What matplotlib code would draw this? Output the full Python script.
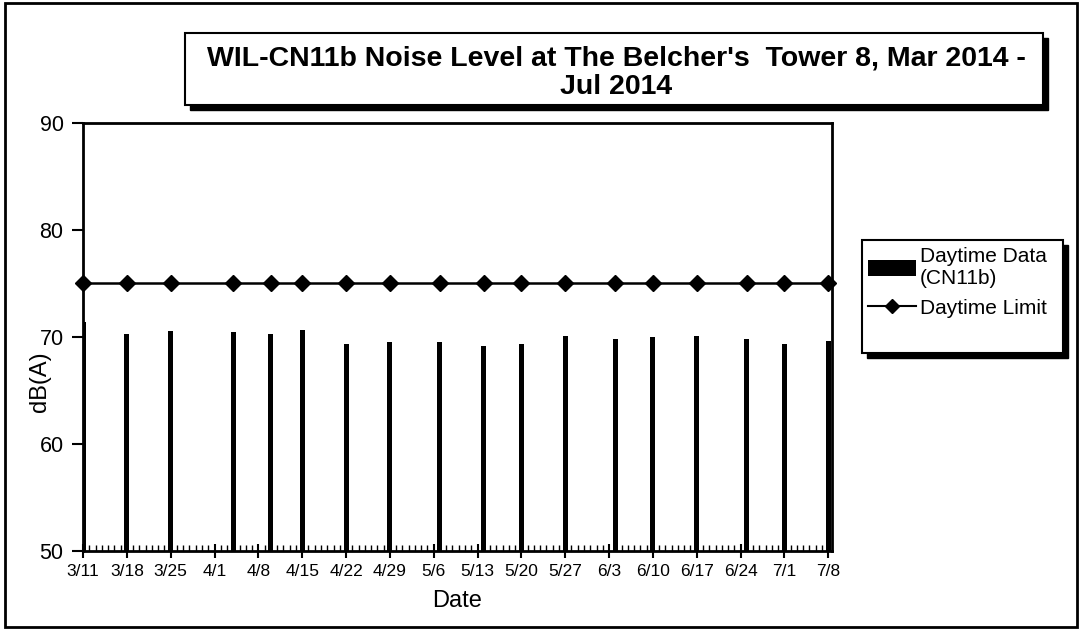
import pandas as pd
import matplotlib
matplotlib.use('Agg')
import matplotlib.pyplot as plt
import matplotlib.dates as mdates
from matplotlib.patches import Rectangle
from matplotlib.ticker import FixedLocator, FuncFormatter

plt.rcParams['font.family'] = ['Liberation Sans', 'DejaVu Sans']

# data
sample_dates = ['2014-03-11', '2014-03-18', '2014-03-25', '2014-04-04', '2014-04-10',
                '2014-04-15', '2014-04-22', '2014-04-29', '2014-05-07', '2014-05-14',
                '2014-05-20', '2014-05-27', '2014-06-04', '2014-06-10', '2014-06-17',
                '2014-06-25', '2014-07-01', '2014-07-08']
daytime_data = [71.4, 70.3, 70.6, 70.5, 70.3, 70.7, 69.3, 69.5, 69.5, 69.2,
                69.3, 70.1, 69.8, 70.0, 70.1, 69.8, 69.3, 69.6]
daytime_limit = [75] * len(sample_dates)

title_text = "WIL-CN11b Noise Level at The Belcher's  Tower 8, Mar 2014 -\nJul 2014"

W, H = 1081, 630
fig = plt.figure(figsize=(W / 100, H / 100), dpi=100)

def fx(px):
    return px / W

def fy(py):
    return 1 - py / H

def shadow_box(left, top, right, bottom, off, lw=1.5):
    # black offset rectangle behind a white framed one
    fig.patches.append(Rectangle((fx(left + off), fy(bottom + off)), fx(right) - fx(left),
                                 fy(top) - fy(bottom), transform=fig.transFigure,
                                 facecolor='black', edgecolor='black', zorder=-3))
    fig.patches.append(Rectangle((fx(left), fy(bottom)), fx(right) - fx(left),
                                 fy(top) - fy(bottom), transform=fig.transFigure,
                                 facecolor='white', edgecolor='black', lw=lw, zorder=-2))

ax = fig.add_axes([fx(83), fy(551), fx(832) - fx(83), fy(123) - fy(551)])

x = mdates.date2num(pd.to_datetime(sample_dates))
bars = ax.bar(x, [v - 50 for v in daytime_data], bottom=50, width=0.8, color='black',
              label='Daytime Data\n(CN11b)', zorder=2)
line, = ax.plot(x, daytime_limit, color='black', lw=1.8, marker='D', markersize=8,
                label='Daytime Limit', zorder=3, clip_on=False)

x0 = mdates.date2num(pd.Timestamp('2014-03-11'))
x1 = mdates.date2num(pd.Timestamp('2014-07-08'))
ax.set_xlim(x0, x1 + 0.6)
ax.set_ylim(50, 90)
ax.set_yticks([50, 60, 70, 80, 90])

major = mdates.date2num(pd.date_range('2014-03-11', '2014-07-08', freq='7D'))
minor = mdates.date2num(pd.date_range('2014-03-11', '2014-07-09', freq='D'))
ax.xaxis.set_major_locator(FixedLocator(major))
ax.xaxis.set_minor_locator(FixedLocator(minor))
ax.xaxis.set_major_formatter(FuncFormatter(
    lambda v, pos: f"{mdates.num2date(v).month}/{mdates.num2date(v).day}"))

ax.tick_params(axis='x', which='major', direction='inout', length=10, width=1.5,
               labelsize=12.5, pad=4)
ax.tick_params(axis='x', which='minor', direction='in', length=4, width=1)
ax.tick_params(axis='y', which='major', direction='out', length=8, width=1.5,
               labelsize=15.5, pad=6)
for s in ax.spines.values():
    s.set_linewidth(2)

ax.set_xlabel('Date', fontsize=17, labelpad=8)
fig.text(fx(40), fy(382), 'dB(A)', rotation=90, fontsize=17, ha='center', va='center')

# title box with drop shadow
shadow_box(185, 33, 1043, 105, 5)
fig.text(fx(616), fy(73), title_text, ha='center', va='center', fontsize=20.5,
         fontweight='bold', linespacing=1.1, zorder=3)

# legend box with drop shadow, legend itself without frame
shadow_box(862, 240, 1063, 353, 5)
leg = fig.legend([bars, line], ['Daytime Data\n(CN11b)', 'Daytime Limit'],
                 loc='upper left', bbox_to_anchor=(fx(866), fy(245)),
                 borderaxespad=0, fontsize=15,
                 frameon=False, handlelength=2.3, handleheight=0.8, handletextpad=0.2,
                 labelspacing=0.5, borderpad=0.1)
for h in leg.legend_handles:
    if hasattr(h, 'set_markersize'):
        h.set_markersize(7)
        h.set_linewidth(1.5)

# outer border
fig.patches.append(Rectangle((fx(5), fy(627)), fx(1077) - fx(5), fy(3) - fy(627),
                             transform=fig.transFigure, facecolor='none', edgecolor='black',
                             lw=2))

fig.savefig('out.png', dpi=100)
